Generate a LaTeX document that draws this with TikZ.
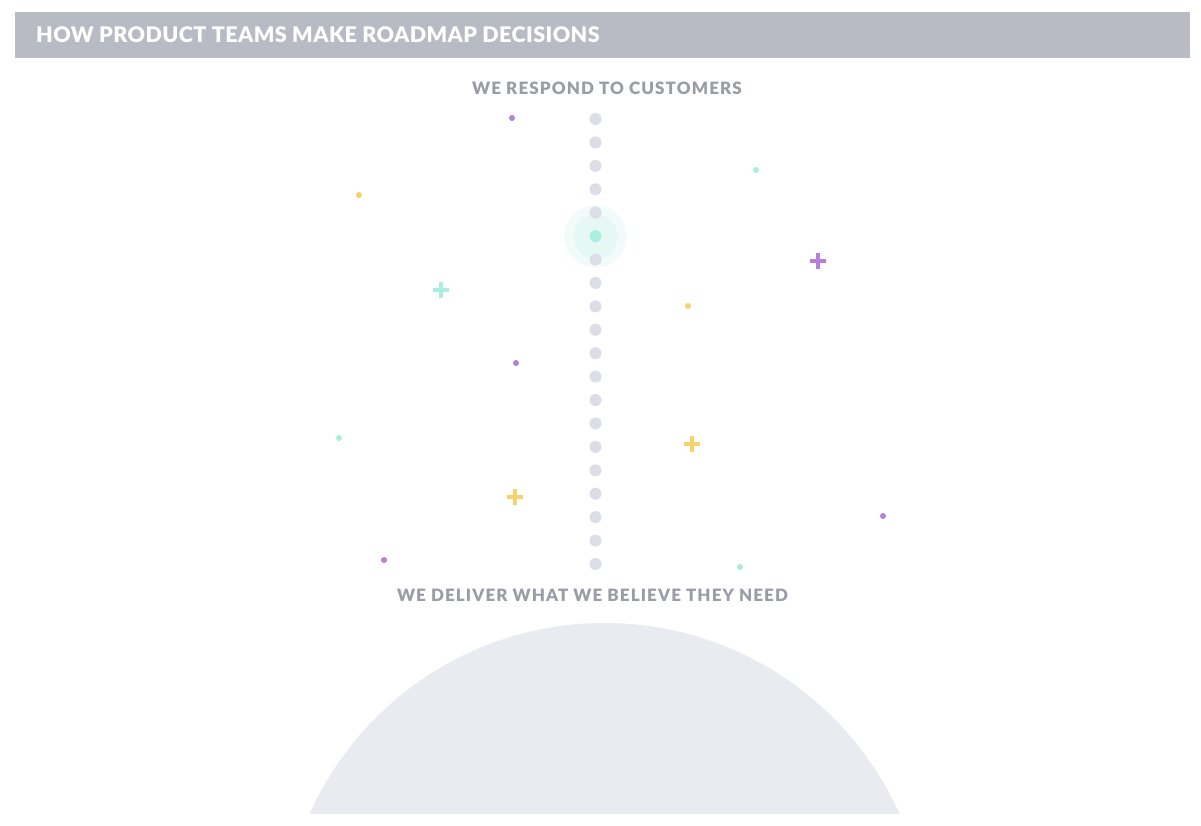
\documentclass[tikz,border=0pt]{standalone}
\usepackage{fontspec}
\setmainfont{Lato}
\newfontfamily\titlefont[LetterSpace=2.0]{Lato Black}
\newfontfamily\subfont[LetterSpace=6.5]{Lato Black}
\definecolor{barc}{HTML}{B8BAC4}
\definecolor{subc}{HTML}{9A9CA6}
\definecolor{dotc}{HTML}{DCDDE6}
\definecolor{mintc}{HTML}{A9EEDF}
\definecolor{haloA}{HTML}{F1FBF9}
\definecolor{haloB}{HTML}{E6F8F4}
\definecolor{purc}{HTML}{B57FDD}
\definecolor{yelc}{HTML}{F4D36C}
\definecolor{domec}{HTML}{EAEBF0}
\tikzset{
  coldot/.style={circle,fill=dotc,inner sep=0pt,minimum size=12pt},
  spark/.style={circle,fill=#1,inner sep=0pt,minimum size=6pt},
  plusarm/.style={draw=#1,line width=3.2pt},
  subtitle/.style={text=subc,font=\subfont\fontsize{17}{20}\selectfont},
}
\begin{document}
\begin{tikzpicture}[x=1pt,y=-1pt]
\useasboundingbox (0,0) rectangle (1201,825);
\fill[white] (0,0) rectangle (1201,825);
% header
\node[fill=barc,minimum width=1175pt,minimum height=46pt,inner sep=0pt,anchor=north west] (bar) at (15,12) {};
\node[anchor=west,text=white,font=\titlefont\fontsize{21.5}{25}\selectfont,inner sep=0pt] (title) at (36,35) {HOW PRODUCT TEAMS MAKE ROADMAP DECISIONS};
% dome
\begin{scope}
\clip (0,0) rectangle (1201,813);
\fill[domec] (604.5,946.2) circle[radius=323.2];
\end{scope}
% labels
\node[subtitle] (top) at (607,88) {WE RESPOND TO CUSTOMERS};
\node[subtitle] (bottom) at (592.5,595) {WE DELIVER WHAT WE BELIEVE THEY NEED};
% halo
\fill[haloA] (595.5,236.5) circle[radius=31];
\fill[haloB] (595.5,236.5) circle[radius=22];
% dots column
\foreach \i in {0,...,19}{
  \pgfmathsetmacro{\yy}{119+\i*23.42}
  \ifnum\i=5
    \node[coldot,fill=mintc] (d\i) at (595.5,\yy) {};
  \else
    \node[coldot] (d\i) at (595.5,\yy) {};
  \fi
}
% small sparkle dots
\node[spark=purc] (s1) at (512,118) {};
\node[spark=yelc] (s2) at (359,195) {};
\node[spark=mintc] (s3) at (756,170) {};
\node[spark=yelc] (s4) at (688,306) {};
\node[spark=purc] (s5) at (516,363) {};
\node[spark=mintc] (s6) at (339,438) {};
\node[spark=purc] (s7) at (883,516) {};
\node[spark=purc] (s8) at (384,560) {};
\node[spark=mintc] (s9) at (740,567) {};
% pluses
\foreach \px/\py/\c in {441/290/mintc, 818/261/purc, 692/444/yelc, 515/497/yelc}{
  \draw[plusarm=\c] (\px-8,\py) -- (\px+8,\py);
  \draw[plusarm=\c] (\px,\py-8) -- (\px,\py+8);
}
\end{tikzpicture}
\end{document}
